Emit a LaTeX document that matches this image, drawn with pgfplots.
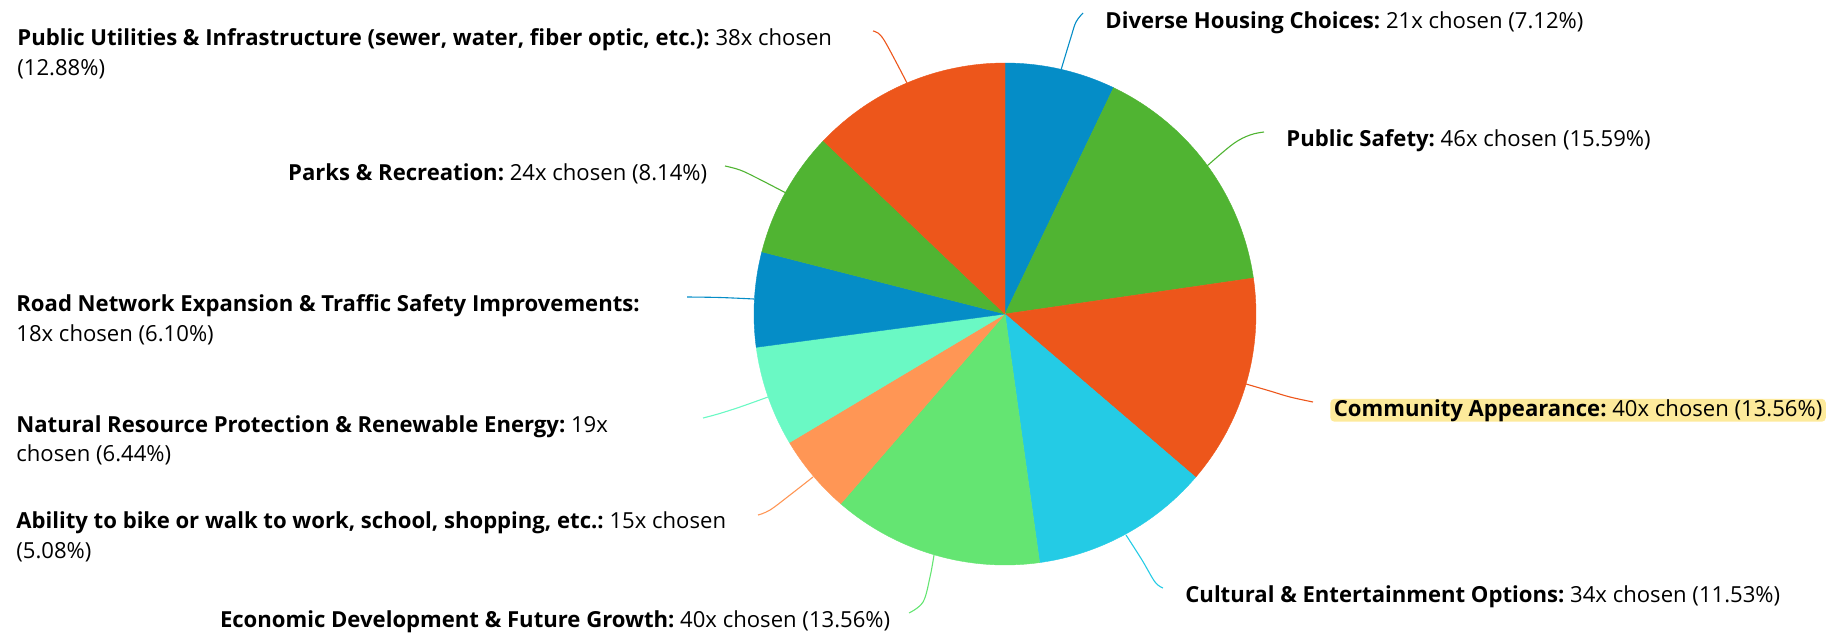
\documentclass[border=0pt]{standalone}
\usepackage{pgfplots}
\pgfplotsset{compat=1.18}
\usepackage{fontspec}
\setmainfont{Open Sans}
\frenchspacing
\definecolor{cBlue}{HTML}{058DC7}
\definecolor{cGreen}{HTML}{50B432}
\definecolor{cOrange}{HTML}{ED561B}
\definecolor{cCyan}{HTML}{24CBE5}
\definecolor{cLGreen}{HTML}{64E572}
\definecolor{cSalmon}{HTML}{FF9655}
\definecolor{cMint}{HTML}{6AF9C4}
\definecolor{hl}{RGB}{253,234,155}
\tikzset{lbl/.style={anchor=base west,inner sep=0pt,font=\fontsize{11.05}{15}\selectfont}}
\pgfplotsset{
  wedge/.style={fill=#1,draw=#1,line width=0.2pt,samples=40,variable=\t},
  lead/.style={draw=#1,line width=0.55pt,smooth,tension=0.6}}
\begin{document}
\begin{tikzpicture}
\begin{axis}[width=916pt,height=321.5pt,scale only axis,hide axis,
  xmin=0,xmax=1832,ymin=0,ymax=643,y dir=reverse,clip=false]
\path (axis cs:0,0) rectangle (axis cs:1832,643);
% counts: 21,46,40,34,40,15,19,18,24,38 (total 295), clockwise from top
\addplot[wedge=cBlue,domain=0:21]    ({1005+251*sin(\t*360/295)},{314-251*cos(\t*360/295)}) -- (axis cs:1005,314) -- cycle;
\addplot[wedge=cGreen,domain=21:67]  ({1005+251*sin(\t*360/295)},{314-251*cos(\t*360/295)}) -- (axis cs:1005,314) -- cycle;
\addplot[wedge=cOrange,domain=67:107]({1005+251*sin(\t*360/295)},{314-251*cos(\t*360/295)}) -- (axis cs:1005,314) -- cycle;
\addplot[wedge=cCyan,domain=107:141] ({1005+251*sin(\t*360/295)},{314-251*cos(\t*360/295)}) -- (axis cs:1005,314) -- cycle;
\addplot[wedge=cLGreen,domain=141:181]({1005+251*sin(\t*360/295)},{314-251*cos(\t*360/295)}) -- (axis cs:1005,314) -- cycle;
\addplot[wedge=cSalmon,domain=181:196]({1005+251*sin(\t*360/295)},{314-251*cos(\t*360/295)}) -- (axis cs:1005,314) -- cycle;
\addplot[wedge=cMint,domain=196:215] ({1005+251*sin(\t*360/295)},{314-251*cos(\t*360/295)}) -- (axis cs:1005,314) -- cycle;
\addplot[wedge=cBlue,domain=215:233] ({1005+251*sin(\t*360/295)},{314-251*cos(\t*360/295)}) -- (axis cs:1005,314) -- cycle;
\addplot[wedge=cGreen,domain=233:257]({1005+251*sin(\t*360/295)},{314-251*cos(\t*360/295)}) -- (axis cs:1005,314) -- cycle;
\addplot[wedge=cOrange,domain=257:295]({1005+251*sin(\t*360/295)},{314-251*cos(\t*360/295)}) -- (axis cs:1005,314) -- cycle;
% leader lines
\addplot[lead=cBlue]   coordinates {(1061,70) (1071,37) (1076,22) (1083,13)};
\addplot[lead=cGreen]  coordinates {(1207,166) (1233,144) (1250,135) (1264,132)};
\addplot[lead=cOrange] coordinates {(1246,384) (1270,391) (1290,397) (1313,402)};
\addplot[lead=cCyan]   coordinates {(1126,535) (1142,560) (1155,582) (1163,588)};
\addplot[lead=cLGreen] coordinates {(934,555) (930,577) (923,602) (909,613)};
\addplot[lead=cSalmon] coordinates {(813,477) (790,495) (770,510) (758,515)};
\addplot[lead=cMint]   coordinates {(768,397) (740,407) (718,414) (703,418)};
\addplot[lead=cBlue]   coordinates {(754,299) (720,297.5) (687,297)};
\addplot[lead=cGreen]  coordinates {(786,193) (757,178) (740,170) (725,166)};
\addplot[lead=cOrange] coordinates {(907,83) (895,60) (884,40) (878,33) (873,31)};
% labels
\node[lbl] at (axis cs:17,45) {\textbf{Public Utilities \& Infrastructure (sewer, water, fiber optic, etc.):} 38x chosen};
\node[lbl] at (axis cs:17,75) {(12.88\%)};
\node[lbl] at (axis cs:1105,28) {\textbf{Diverse Housing Choices:} 21x chosen (7.12\%)};
\node[lbl] at (axis cs:1286,146) {\textbf{Public Safety:} 46x chosen (15.59\%)};
\node[lbl,fill=hl,rounded corners=2pt,inner xsep=1.75pt,inner ysep=0.2pt] at (axis cs:1330,416) {\textbf{Community Appearance:} 40x chosen (13.56\%)};
\node[lbl] at (axis cs:1185,602) {\textbf{Cultural \& Entertainment Options:} 34x chosen (11.53\%)};
\node[lbl] at (axis cs:219.6,627) {\textbf{Economic Development \& Future Growth:} 40x chosen (13.56\%)};
\node[lbl] at (axis cs:16,528.5) {\textbf{Ability to bike or walk to work, school, shopping, etc.:} 15x chosen};
\node[lbl] at (axis cs:16,558.3) {(5.08\%)};
\node[lbl] at (axis cs:16,432.3) {\textbf{Natural Resource Protection \& Renewable Energy:} 19x};
\node[lbl] at (axis cs:16,461.7) {chosen (6.44\%)};
\node[lbl] at (axis cs:16,311.7) {\textbf{Road Network Expansion \& Traffic Safety Improvements:}};
\node[lbl] at (axis cs:16,341.7) {18x chosen (6.10\%)};
\node[lbl] at (axis cs:287.8,180.7) {\textbf{Parks \& Recreation:} 24x chosen (8.14\%)};
\end{axis}
\end{tikzpicture}
\end{document}
